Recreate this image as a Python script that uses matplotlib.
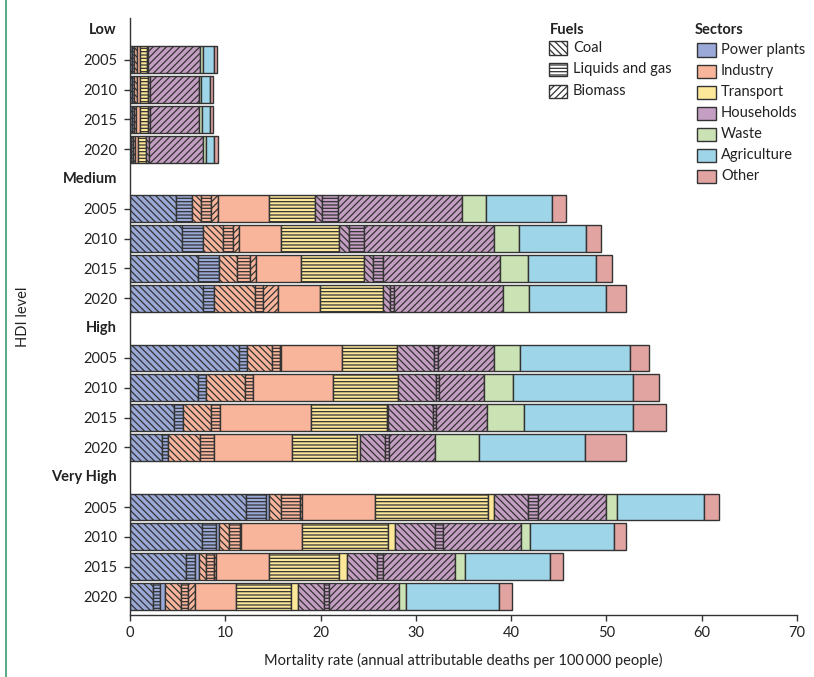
import matplotlib
matplotlib.use('Agg')
import matplotlib.pyplot as plt
from matplotlib.patches import Rectangle
from matplotlib.lines import Line2D
import matplotlib.transforms as mtrans

plt.rcParams['font.family'] = ['Lato', 'DejaVu Sans']
plt.rcParams['hatch.linewidth'] = 0.9
plt.rcParams['hatch.color'] = '#333333'

# ---------------- data ----------------
hdi_levels = ['Low', 'Medium', 'High', 'Very High']
years = ['2005', '2010', '2015', '2020']

# values per bar, ordered Low(2005..2020), Medium, High, Very High
pp_coal  = [0.25, 0.25, 0.2, 0.15,  4.8, 5.5, 7.15, 7.65,  11.45, 7.15, 4.65, 3.4,  12.15, 7.6, 5.85, 2.4]
pp_liq   = [0.2, 0.2, 0.2, 0.2,  1.7, 2.15, 2.2, 1.2,  0.8, 0.8, 0.9, 0.6,  2.15, 1.4, 1.0, 0.75]
pp_oth   = [0, 0, 0, 0,  0, 0, 0, 0,  0, 0, 0, 0,  0.25, 0.35, 0.35, 0.5]
ind_coal = [0.3, 0.25, 0.2, 0.15,  1.0, 2.15, 1.9, 4.25,  2.7, 4.15, 2.95, 3.35,  1.25, 1.0, 0.75, 1.75]
ind_liq  = [0, 0, 0, 0,  0.95, 1.0, 1.35, 0.9,  0.75, 0.85, 0.95, 1.5,  2.0, 1.15, 0.9, 0.7]
ind_bio  = [0, 0, 0, 0,  0.75, 0.65, 0.6, 1.55,  0.15, 0, 0, 0,  0.25, 0.15, 0.15, 0.7]
ind_oth  = [0.35, 0.4, 0.5, 0.3,  5.35, 4.35, 4.7, 4.4,  6.45, 8.4, 9.5, 8.1,  7.7, 6.35, 5.6, 4.3]
tr_liq   = [0.65, 0.8, 0.8, 0.9,  4.9, 6.15, 6.7, 6.55,  5.7, 6.8, 8.0, 6.9,  11.8, 9.1, 7.35, 5.75]
tr_oth   = [0, 0, 0, 0,  0, 0, 0, 0,  0, 0, 0.15, 0.3,  0.7, 0.7, 0.85, 0.8]
hh_coal  = [0.15, 0.25, 0.2, 0.25,  0.7, 1.05, 0.9, 0.75,  3.95, 3.95, 4.7, 2.65,  3.5, 4.25, 3.1, 2.7]
hh_liq   = [0, 0, 0, 0,  1.65, 1.55, 1.1, 0.5,  0.35, 0.35, 0.35, 0.35,  1.1, 0.8, 0.65, 0.55]
hh_bio   = [5.45, 5.05, 5.15, 5.7,  13.05, 13.65, 12.25, 11.35,  5.95, 4.7, 5.35, 4.9,  7.1, 8.2, 7.6, 7.3]
waste    = [0.35, 0.3, 0.3, 0.35,  2.55, 2.65, 2.95, 2.75,  2.7, 3.0, 3.8, 4.6,  1.15, 0.95, 1.0, 0.75]
agri     = [1.1, 0.85, 0.85, 0.85,  6.9, 7.05, 7.15, 8.15,  11.5, 12.65, 11.45, 11.05,  9.15, 8.75, 8.9, 9.75]
other    = [0.3, 0.35, 0.35, 0.35,  1.45, 1.5, 1.6, 2.1,  2.05, 2.75, 3.5, 4.4,  1.55, 1.35, 1.35, 1.35]

fuels = ['Coal', 'Liquids and gas', 'Biomass']
sectors = ['Power plants', 'Industry', 'Transport', 'Households', 'Waste', 'Agriculture', 'Other']

sector_colors = {
    'Power plants': '#9aa9d8',
    'Industry': '#f9b59b',
    'Transport': '#fde89a',
    'Households': '#c59fc3',
    'Waste': '#cbe2b5',
    'Agriculture': '#9ed5e8',
    'Other': '#e2a4a1',
}
fuel_hatch = {'Coal': '\\\\\\\\\\', 'Liquids and gas': '-----', 'Biomass': '/////', None: None}

segments = [
    (pp_coal, 'Power plants', 'Coal'),
    (pp_liq, 'Power plants', 'Liquids and gas'),
    (pp_oth, 'Power plants', None),
    (ind_coal, 'Industry', 'Coal'),
    (ind_liq, 'Industry', 'Liquids and gas'),
    (ind_bio, 'Industry', 'Biomass'),
    (ind_oth, 'Industry', None),
    (tr_liq, 'Transport', 'Liquids and gas'),
    (tr_oth, 'Transport', None),
    (hh_coal, 'Households', 'Coal'),
    (hh_liq, 'Households', 'Liquids and gas'),
    (hh_bio, 'Households', 'Biomass'),
    (waste, 'Waste', None),
    (agri, 'Agriculture', None),
    (other, 'Other', None),
]

# ---------------- layout ----------------
W, H = 814, 677
fig = plt.figure(figsize=(W / 100, H / 100), dpi=100)
ax = fig.add_axes([130 / W, 1 - 615 / H, (797 - 130) / W, (615 - 18) / H])

ypos = []
header_pos = []
for g in range(len(hdi_levels)):
    header_pos.append(g * 5)
    for i in range(len(years)):
        ypos.append(g * 5 + 1 + i)

lefts = [0.0] * len(ypos)
for vals, sec, fuel in segments:
    for k, (y, v) in enumerate(zip(ypos, vals)):
        if v > 0:
            ax.barh(y, v, left=lefts[k], height=0.9, color=sector_colors[sec],
                    hatch=fuel_hatch[fuel], edgecolor='#333333', linewidth=1.0)
        lefts[k] += v

ax.set_xlim(0, 70)
ax.set_ylim(19.62, -0.4)
ax.set_xticks(range(0, 71, 10))
ax.set_yticks(ypos, labels=years * len(hdi_levels))
ax.tick_params(axis='both', labelsize=10.5, length=4, width=1, color='#333333', labelcolor='#222222')
ax.tick_params(axis='y', pad=5)
ax.tick_params(axis='x', pad=4)
for s in ['top', 'right']:
    ax.spines[s].set_visible(False)
for s in ['left', 'bottom']:
    ax.spines[s].set_color('#333333')
    ax.spines[s].set_linewidth(1.0)

trans = mtrans.blended_transform_factory(ax.transAxes, ax.transData)
for lvl, yp in zip(hdi_levels, header_pos):
    ax.text(-13 / 667, yp, lvl, transform=trans, ha='right', va='center',
            fontsize=10.5, fontweight='bold', color='#222222')

ax.set_xlabel('Mortality rate (annual attributable deaths per 100\u2009000 people)',
              fontsize=10.5, color='#222222', labelpad=9)
ax.set_ylabel('HDI level', fontsize=10.5, color='#222222')
ax.yaxis.set_label_coords(-100 / 667, 0.5)

# green frame line
fig.add_artist(Line2D([6 / W, 6 / W], [0, 1], color='#3f9b72', lw=1.2))


def fx(x):
    return x / W


def fy(y):
    return 1 - y / H


# Fuels legend
fig.text(fx(550), fy(30), 'Fuels', fontsize=10.5, fontweight='bold', va='center', ha='left', color='#222222')
for i, f in enumerate(fuels):
    yc = 48 + i * 21.5
    fig.add_artist(Rectangle((fx(549), fy(yc + 6.5)), 18 / W, 13 / H, transform=fig.transFigure,
                             facecolor='white', edgecolor='#333333', hatch=fuel_hatch[f], lw=1.0))
    fig.text(fx(573), fy(yc), f, fontsize=10.5, va='center', ha='left', color='#222222')

# Sectors legend
fig.text(fx(695), fy(30), 'Sectors', fontsize=10.5, fontweight='bold', va='center', ha='left', color='#222222')
for i, s in enumerate(sectors):
    yc = 50 + i * 21
    fig.add_artist(Rectangle((fx(697), fy(yc + 6.5)), 19 / W, 13 / H, transform=fig.transFigure,
                             facecolor=sector_colors[s], edgecolor='#333333', lw=1.0))
    fig.text(fx(721), fy(yc), s, fontsize=10.5, va='center', ha='left', color='#222222')

fig.savefig('out.png', dpi=100)
